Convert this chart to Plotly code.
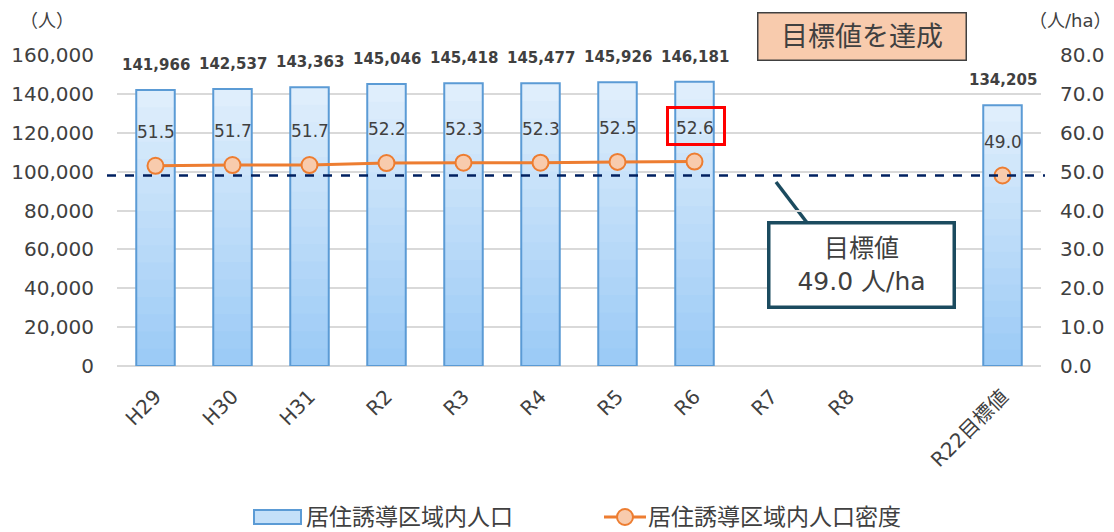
import plotly.graph_objects as go

categories = ["H29", "H30", "H31", "R2", "R3", "R4", "R5", "R6", "R7", "R8", " ", "R22目標値"]
population = [141966, 142537, 143363, 145046, 145418, 145477, 145926, 146181, None, None, None, 134205]
density = [51.5, 51.7, 51.7, 52.2, 52.3, 52.3, 52.5, 52.6, None, None, None, 49.0]
target_density = 49.0
bar_name = "居住誘導区域内人口"
line_name = "居住誘導区域内人口密度"

FONT = "DejaVu Sans, Noto Sans CJK JP"
TXT = "#404040"

W, H = 1114, 532
ML, MR, MT, MB = 117, 73, 55, 166
PW, PH = W - ML - MR, H - MT - MB


def px(x):
    return (x - ML) / PW


def py(y):
    return (H - MB - y) / PH


fig = go.Figure()

# gradient-like bar fill built from overlaid layers (lighter top, darker bottom)
N = 16
top_rgb = (223, 238, 252)
bot_rgb = (152, 201, 246)
for k in range(N, 0, -1):
    frac = k / N
    t = 1 - frac
    c = tuple(int(top_rgb[i] + (bot_rgb[i] - top_rgb[i]) * t) for i in range(3))
    fig.add_trace(go.Bar(
        x=categories,
        y=[None if v is None else v * frac for v in population],
        marker=dict(color="rgb(%d,%d,%d)" % c, line=dict(width=0)),
        width=0.5, showlegend=False, hoverinfo="skip", yaxis="y",
    ))

fig.add_trace(go.Bar(
    x=categories, y=population, name=bar_name,
    marker=dict(color="rgba(0,0,0,0)", line=dict(color="#5B9BD5", width=2)),
    width=0.5, yaxis="y", showlegend=False,
))

fig.add_trace(go.Scatter(
    x=categories, y=density, name=line_name, yaxis="y2",
    mode="lines+markers", connectgaps=False, showlegend=False,
    line=dict(color="#ED7D31", width=3),
    marker=dict(size=16, color="#F8CBAD", line=dict(color="#ED7D31", width=2)),
))

annotations = []
for c, v in zip(categories, population):
    if v is not None:
        annotations.append(dict(x=c, y=v, xref="x", yref="y", text=f"<b>{v:,}</b>",
                                showarrow=False, yanchor="bottom", yshift=14,
                                font=dict(family=FONT, size=15, color=TXT)))
for c, v in zip(categories, density):
    if v is not None:
        annotations.append(dict(x=c, y=v, xref="x", yref="y2", text=f"{v:.1f}",
                                showarrow=False, yanchor="middle", yshift=34,
                                font=dict(family=FONT, size=17, color=TXT)))

annotations += [
    dict(x=px(47), y=py(20), xref="paper", yref="paper", text="（人）", showarrow=False,
         xanchor="center", yanchor="middle", font=dict(family=FONT, size=18, color=TXT)),
    dict(x=px(1070), y=py(20), xref="paper", yref="paper", text="（人/ha）", showarrow=False,
         xanchor="center", yanchor="middle", font=dict(family=FONT, size=18, color=TXT)),
    dict(x=px(862), y=py(37), xref="paper", yref="paper", text="目標値を達成", showarrow=False,
         xanchor="center", yanchor="middle", font=dict(family=FONT, size=27, color=TXT),
         bgcolor="#F8CBAD", bordercolor="#404040", borderwidth=1.5, borderpad=0,
         width=207, height=46),
    dict(x=px(861), y=py(265), xref="paper", yref="paper", text="目標値<br>49.0 人/ha",
         showarrow=False, xanchor="center", yanchor="middle",
         font=dict(family=FONT, size=25, color=TXT), bgcolor="white",
         bordercolor="#1B4B5F", borderwidth=3.5, borderpad=0, width=182, height=81),
    dict(x="R6", y=density[7], xref="x", yref="y2", text="", showarrow=False,
         yshift=36, xshift=1, width=54, height=34, bordercolor="#FF0000", borderwidth=3,
         borderpad=0),
    # manual legend texts
    dict(x=px(304), y=py(517), xref="paper", yref="paper", text=bar_name, showarrow=False,
         xanchor="left", yanchor="middle", font=dict(family=FONT, size=23, color=TXT)),
    dict(x=px(646), y=py(517), xref="paper", yref="paper", text=line_name, showarrow=False,
         xanchor="left", yanchor="middle", font=dict(family=FONT, size=23, color=TXT)),
]

shapes = [
    dict(type="line", xref="paper", yref="y2", x0=px(107), x1=px(1045),
         y0=target_density, y1=target_density,
         line=dict(color="#002060", width=2.5, dash="dash")),
    dict(type="line", xref="paper", yref="paper", x0=px(776), y0=py(182), x1=px(808), y1=py(224),
         line=dict(color="#1B4B5F", width=3.5), layer="below"),
    # legend swatches
    dict(type="rect", xref="paper", yref="paper", x0=px(254), x1=px(301), y0=py(524), y1=py(510),
         fillcolor="#C4E0F9", line=dict(color="#5B9BD5", width=2)),
    dict(type="line", xref="paper", yref="paper", x0=px(604), x1=px(646), y0=py(517), y1=py(517),
         line=dict(color="#ED7D31", width=3)),
    dict(type="circle", xref="paper", yref="paper", x0=px(617), x1=px(633), y0=py(525), y1=py(509),
         fillcolor="#F8CBAD", line=dict(color="#ED7D31", width=2)),
]

fig.update_layout(
    width=W, height=H,
    margin=dict(l=ML, r=MR, t=MT, b=MB),
    paper_bgcolor="white", plot_bgcolor="white",
    barmode="overlay", showlegend=False,
    font=dict(family=FONT, color=TXT),
    xaxis=dict(type="category", categoryorder="array", categoryarray=categories,
               range=[-0.5, len(categories) - 0.5],
               tickangle=-45, tickfont=dict(size=20, color=TXT), showgrid=False,
               showline=False, ticks="", automargin=False, ticklabelstandoff=14),
    yaxis=dict(range=[0, 160000], dtick=20000, tickformat=",", showgrid=True,
               gridcolor="#D9D9D9", gridwidth=1.5, zeroline=True, zerolinecolor="#D9D9D9",
               zerolinewidth=1.5, tickfont=dict(size=20, color=TXT), ticks="",
               ticklabelstandoff=22, automargin=False),
    yaxis2=dict(range=[0, 80], dtick=10, tickformat=".1f", overlaying="y", side="right",
                showgrid=False, zeroline=False, tickfont=dict(size=20, color=TXT), ticks="",
                ticklabelstandoff=18, automargin=False),
    annotations=annotations, shapes=shapes,
)

fig.write_html("out.html")
